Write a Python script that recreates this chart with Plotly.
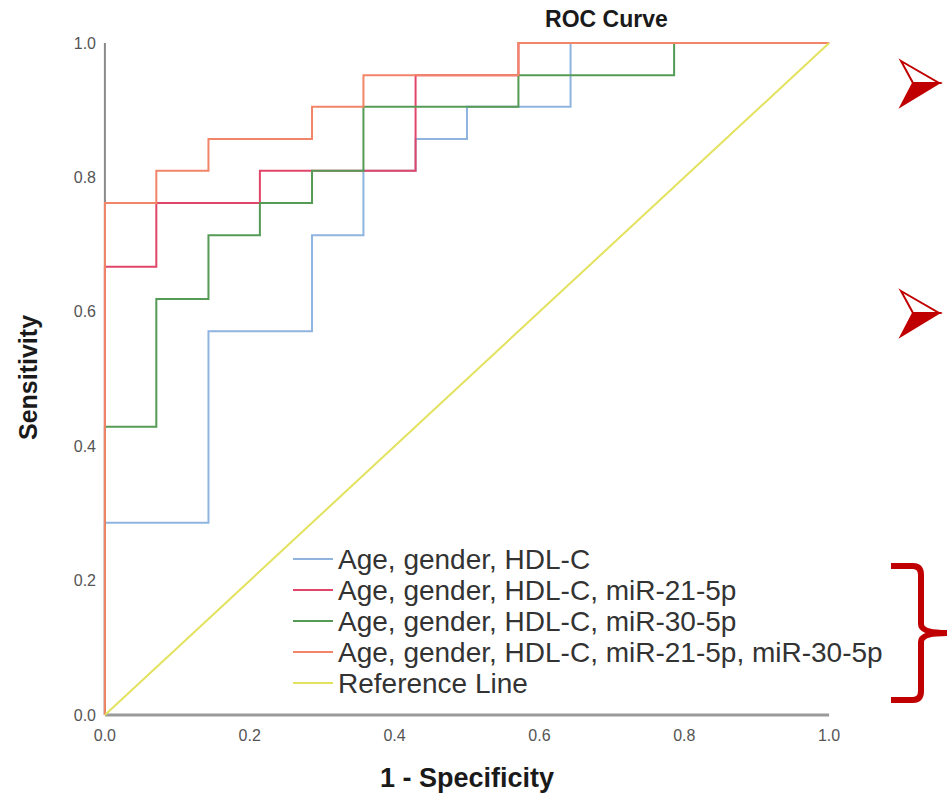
import plotly.graph_objects as go

# ROC step coordinates (1 - specificity, sensitivity) for each model
fpr_base = [0.0, 0.0, 0.143, 0.143, 0.286, 0.286, 0.357, 0.357, 0.429, 0.429, 0.500, 0.500, 0.643, 0.643, 1.0]
tpr_base = [0.0, 0.286, 0.286, 0.571, 0.571, 0.714, 0.714, 0.810, 0.810, 0.857, 0.857, 0.905, 0.905, 1.0, 1.0]

fpr_mir21 = [0.0, 0.0, 0.071, 0.071, 0.214, 0.214, 0.429, 0.429, 0.571, 0.571, 1.0]
tpr_mir21 = [0.0, 0.667, 0.667, 0.762, 0.762, 0.810, 0.810, 0.952, 0.952, 1.0, 1.0]

fpr_mir30 = [0.0, 0.0, 0.071, 0.071, 0.143, 0.143, 0.214, 0.214, 0.286, 0.286, 0.357, 0.357, 0.571, 0.571, 0.786, 0.786, 1.0]
tpr_mir30 = [0.0, 0.429, 0.429, 0.619, 0.619, 0.714, 0.714, 0.762, 0.762, 0.810, 0.810, 0.905, 0.905, 0.952, 0.952, 1.0, 1.0]

fpr_both = [0.0, 0.0, 0.071, 0.071, 0.143, 0.143, 0.286, 0.286, 0.357, 0.357, 0.571, 0.571, 1.0]
tpr_both = [0.0, 0.762, 0.762, 0.810, 0.810, 0.857, 0.857, 0.905, 0.905, 0.952, 0.952, 1.0, 1.0]

fpr_ref = [0.0, 1.0]
tpr_ref = [0.0, 1.0]

series_names = [
    "Age, gender, HDL-C",
    "Age, gender, HDL-C, miR-21-5p",
    "Age, gender, HDL-C, miR-30-5p",
    "Age, gender, HDL-C, miR-21-5p, miR-30-5p",
    "Reference Line",
]
series_colors = ["#8fb4e0", "#e2456a", "#559a55", "#f28468", "#e3e25e"]

tick_vals = [0.0, 0.2, 0.4, 0.6, 0.8, 1.0]
tick_text = ["0.0", "0.2", "0.4", "0.6", "0.8", "1.0"]

W, H = 948, 798
ML, MR, MT, MB = 102, 116, 40, 80
PW, PH = W - ML - MR, H - MT - MB

FONT = "Liberation Sans, Arial, sans-serif"


def px(x):
    return (x - ML) / PW


def py(y):
    return (H - MB - y) / PH


fig = go.Figure()
curves = [
    (fpr_base, tpr_base),
    (fpr_mir21, tpr_mir21),
    (fpr_mir30, tpr_mir30),
    (fpr_both, tpr_both),
    (fpr_ref, tpr_ref),
]
for (xs, ys), name, color in zip(curves, series_names, series_colors):
    fig.add_trace(go.Scatter(
        x=xs, y=ys, mode="lines", name=name,
        line=dict(color=color, width=2),
        hoverinfo="skip", showlegend=False,
    ))

# gray axis lines
shapes = [
    dict(type="line", xref="x", yref="y", x0=0, x1=1, y0=0, y1=0,
         line=dict(color="#9a9a9a", width=3), layer="below"),
    dict(type="line", xref="x", yref="y", x0=0, x1=0, y0=0, y1=1,
         line=dict(color="#8a8a8a", width=2), layer="below"),
]
annotations = []

# legend block: colour swatch + label per series
legend_rows = [559, 590, 621, 652, 683]
for row_y, name, color in zip(legend_rows, series_names, series_colors):
    shapes.append(dict(type="line", xref="paper", yref="paper",
                       x0=px(293), x1=px(333), y0=py(row_y), y1=py(row_y),
                       line=dict(color=color, width=2)))
    annotations.append(dict(text=name, xref="paper", yref="paper",
                            x=px(336), y=py(row_y), xanchor="left", yanchor="middle",
                            showarrow=False,
                            font=dict(family=FONT, size=28, color="#333333")))


def path(points, close=False):
    s = "M " + " L ".join(f"{px(a):.5f},{py(b):.5f}" for a, b in points)
    return s + (" Z" if close else "")


# red arrowhead bullets on the right
for ty in (83, 313):
    top = [(901, ty - 22), (939, ty), (913, ty)]
    bottom = [(913, ty), (939, ty), (901, ty + 23)]
    shapes.append(dict(type="path", xref="paper", yref="paper", path=path(top, True),
                       fillcolor="white", line=dict(color="#c00000", width=2)))
    shapes.append(dict(type="path", xref="paper", yref="paper", path=path(bottom, True),
                       fillcolor="#c00000", line=dict(color="#c00000", width=2)))


# curly bracket beside the legend
def q(c, e):
    return f" Q {px(c[0]):.5f},{py(c[1]):.5f} {px(e[0]):.5f},{py(e[1]):.5f}"


def l(p):
    return f" L {px(p[0]):.5f},{py(p[1]):.5f}"


brace = (f"M {px(891):.5f},{py(566):.5f}" + l((913, 566)) + q((921, 566), (921, 575))
         + l((921, 624)) + q((921, 633), (947, 633)) + q((921, 633), (921, 642))
         + l((921, 691)) + q((921, 700), (913, 700)) + l((891, 700)))
shapes.append(dict(type="path", xref="paper", yref="paper", path=brace,
                   line=dict(color="#c00000", width=6)))

annotations += [
    dict(text="<b>Sensitivity</b>", xref="paper", yref="paper", x=px(28), y=py(378),
         textangle=-90, showarrow=False, xanchor="center", yanchor="middle",
         font=dict(family=FONT, size=25, color="#1a1a1a")),
    dict(text="<b>1 - Specificity</b>", xref="paper", yref="paper", x=px(467), y=py(778),
         showarrow=False, xanchor="center", yanchor="middle",
         font=dict(family=FONT, size=27, color="#1a1a1a")),
]

axis_common = dict(
    showgrid=False, zeroline=False, showline=False, ticks="",
    tickvals=tick_vals, ticktext=tick_text,
    tickfont=dict(family=FONT, size=16, color="#555555"),
    fixedrange=True,
)

fig.update_layout(
    width=W, height=H,
    margin=dict(l=ML, r=MR, t=MT, b=MB, pad=0),
    paper_bgcolor="white", plot_bgcolor="white",
    title=dict(text="<b>ROC Curve</b>", x=px(569), xanchor="center",
               y=1 - 19 / H, yanchor="middle",
               font=dict(family=FONT, size=23, color="#1a1a1a")),
    showlegend=False,
    shapes=shapes,
    annotations=annotations,
)
fig.update_xaxes(**axis_common, range=[-0.004, 1.004], ticklabelstandoff=6)
fig.update_yaxes(**axis_common, range=[-0.0045, 1.0045], ticklabelstandoff=5)

fig.write_html("out.html")
